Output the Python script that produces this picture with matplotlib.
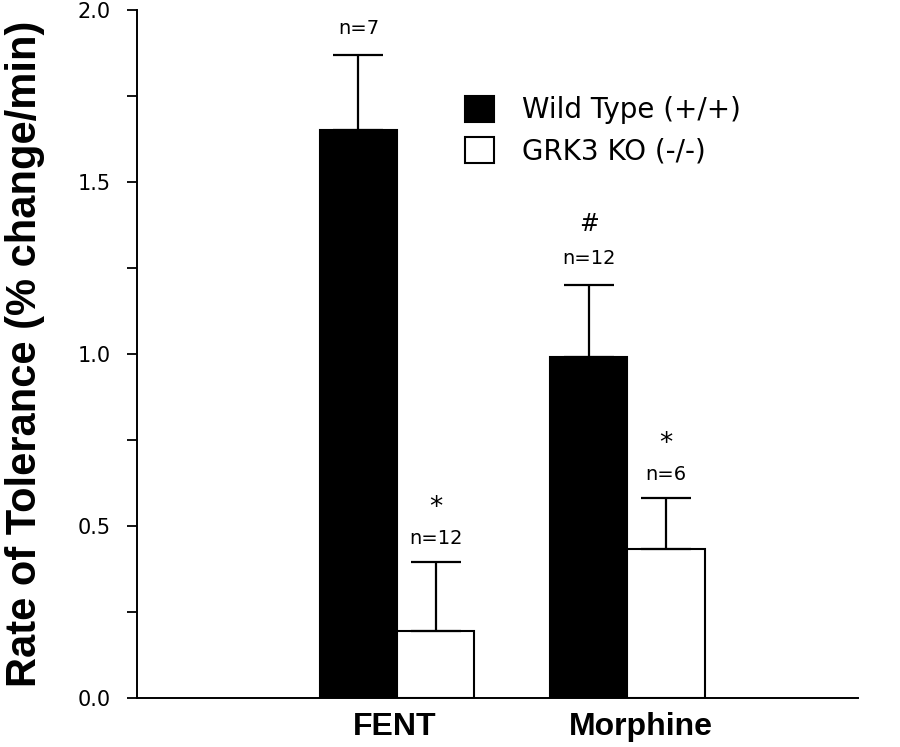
import matplotlib.pyplot as plt
import numpy as np

# data
groups = ['FENT', 'Morphine']
wt_mean = [1.65, 0.99]
wt_err = [0.22, 0.21]
ko_mean = [0.195, 0.433]
ko_err = [0.20, 0.148]
wt_n = ['n=7', 'n=12']
ko_n = ['n=12', 'n=6']
wt_sig = ['', '#']
ko_sig = ['*', '*']

fig = plt.figure(figsize=(9, 7.47), dpi=100)
ax = fig.add_axes([0.152, 0.0656, 0.801, 0.921])

x = np.arange(len(groups))
w = 0.335
ekw = dict(elinewidth=1.6, capthick=1.6, ecolor='black')
ax.bar(x - w / 2, wt_mean, w, color='black', edgecolor='black', linewidth=1.5,
       yerr=[[0, 0], wt_err], capsize=18, error_kw=ekw, label='Wild Type (+/+)')
ax.bar(x + w / 2, ko_mean, w, color='white', edgecolor='black', linewidth=1.5,
       yerr=[[0, 0], ko_err], capsize=18, error_kw=ekw, label='GRK3 KO (-/-)')

# n labels and significance marks above the error bars
for i in range(len(groups)):
    top = wt_mean[i] + wt_err[i]
    ax.annotate(wt_n[i], (x[i] - w / 2, top), xytext=(0, 19), textcoords='offset points',
                ha='center', va='center', fontsize=14, family='DejaVu Sans')
    if wt_sig[i]:
        ax.annotate(wt_sig[i], (x[i] - w / 2, top), xytext=(0, 44), textcoords='offset points',
                    ha='center', va='center', fontsize=17, family='DejaVu Sans')
    top = ko_mean[i] + ko_err[i]
    ax.annotate(ko_n[i], (x[i] + w / 2, top), xytext=(0, 17), textcoords='offset points',
                ha='center', va='center', fontsize=14, family='DejaVu Sans')
    ax.annotate(ko_sig[i], (x[i] + w / 2, top), xytext=(0, 39), textcoords='offset points',
                ha='center', va='center', fontsize=19, family='DejaVu Sans')

ax.set_xlim(-1.13, 2.0)
ax.set_ylim(0, 2.0)
ax.set_yticks([0, 0.5, 1.0, 1.5, 2.0])
ax.set_yticklabels(['0.0', '0.5', '1.0', '1.5', '2.0'], family='DejaVu Sans', fontsize=15)
ax.set_yticks([0.25, 0.75, 1.25, 1.75], minor=True)
ax.tick_params(axis='y', which='both', direction='out', length=7, width=1.3, pad=12)
ax.set_xticks([-0.01, 1.06])
ax.set_xticklabels(groups, fontsize=23, fontweight='bold', family='Liberation Sans')
ax.tick_params(axis='x', length=0, pad=10)

ax.spines['top'].set_visible(False)
ax.spines['right'].set_visible(False)
ax.spines['left'].set_linewidth(1.4)
ax.spines['bottom'].set_linewidth(1.4)

ax.set_ylabel('Rate of Tolerance (% change/min)', fontsize=30, fontweight='bold',
              family='Liberation Sans')
ax.yaxis.set_label_coords(-0.128, 0.5)

ax.legend(loc='upper left', bbox_to_anchor=(465 / 900, 1 - 96 / 747),
          bbox_transform=fig.transFigure, frameon=False, borderpad=0, borderaxespad=0,
          handlelength=1.05, handleheight=1.05, labelspacing=0.45, handletextpad=1.0,
          prop={'family': 'DejaVu Sans', 'size': 20})

fig.savefig('out.png', dpi=100, facecolor='white')
